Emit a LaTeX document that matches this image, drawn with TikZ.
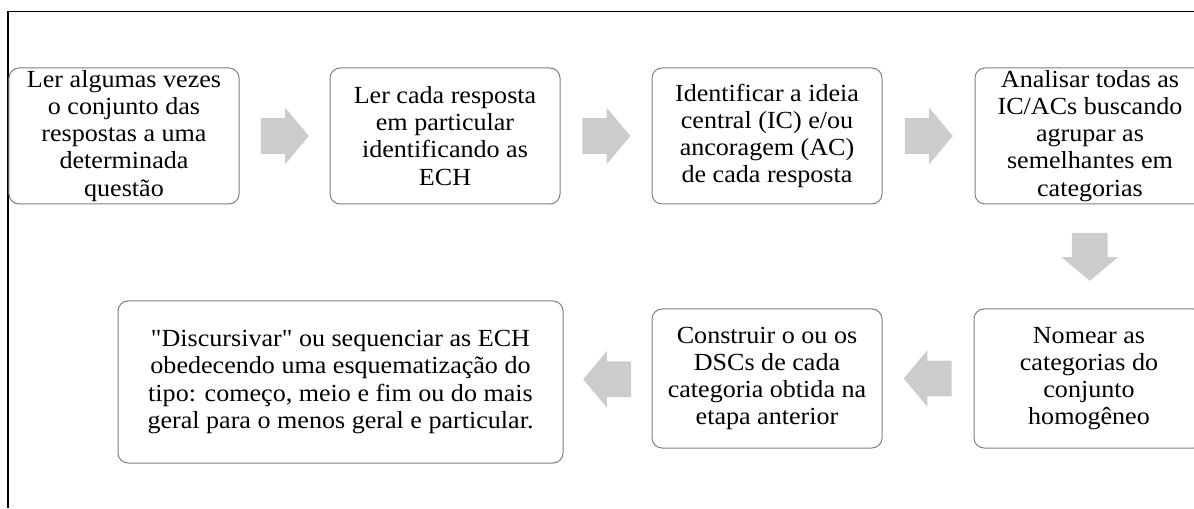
\documentclass[tikz,border=0pt]{standalone}
\usepackage{fontspec}
\setmainfont{Liberation Serif}[Ligatures=TeXOff, FakeStretch=1.06]
\usetikzlibrary{shapes.arrows,calc}

\begin{document}
\begin{tikzpicture}[caixa/.style={draw=black!50, line width=0.02cm, rounded corners=0.2cm, minimum width=4.6cm, minimum height=2.72cm, inner sep=0pt, align=center, font=\fontsize{14}{15.4}\selectfont},
                    seta/.style={single arrow, fill=black!20, draw=none, anchor=tail, minimum height=0.96cm, single arrow head extend=0.21cm, single arrow tip angle=100, inner xsep=0pt, inner ysep=0.35cm}]
            \useasboundingbox (0,0) rectangle (23.88,10.16);
            \clip (0,0) rectangle (23.88,10.16);

            % Rahmen
            \draw[line width=0.03cm] (0.16,0) -- (0.16,9.93) -- (23.88,9.93);

            % Caixas
            \node[caixa] (ler) at (2.48,7.44) {Ler algumas vezes\\o conjunto das\\respostas a uma\\determinada\\questão};
            \node[caixa] (resposta) at (8.90,7.44) {Ler cada resposta\\em particular\\identificando as\\ECH};
            \node[caixa] (ideia) at (15.34,7.44) {Identificar a ideia\\central (IC) e/ou\\ancoragem (AC)\\de cada resposta};
            \node[caixa] (analisar) at (21.80,7.44) {Analisar todas as\\IC/ACs buscando\\agrupar as\\semelhantes em\\categorias};
            \node[caixa, minimum height=2.78cm] (nomear) at (21.78,2.59) {Nomear as\\categorias do\\conjunto\\homogêneo};
            \node[caixa, minimum height=2.78cm] (construir) at (15.34,2.59) {Construir o ou os\\DSCs de cada\\categoria obtida na\\etapa anterior};
            \node[caixa, minimum width=8.9cm, minimum height=3.24cm] (discursivar) at (6.81,2.52) {"Discursivar" ou sequenciar as ECH\\obedecendo uma esquematização do\\tipo: começo, meio e fim ou do mais\\geral para o menos geral e particular.};

            % Setas
            \node[seta] (s1) at ($($(ler.east)!0.5!(resposta.west)$)!0.48cm!(ler.east)$) {};
            \node[seta] (s2) at ($($(resposta.east)!0.5!(ideia.west)$)!0.48cm!(resposta.east)$) {};
            \node[seta] (s3) at ($($(ideia.east)!0.5!(analisar.west)$)!0.48cm!(ideia.east)$) {};
            \node[seta, rotate=-90] (s4) at ($($(analisar.south)!0.5!(nomear.north)$)!0.48cm!(analisar.south)$) {};
            \node[seta, rotate=180] (s5) at ($($(nomear.west)!0.5!(construir.east)$)!0.48cm!(nomear.west)$) {};
            \node[seta, rotate=180] (s6) at ($($(construir.west)!0.5!(discursivar.east)$)!0.48cm!(construir.west)$) {};
        \end{tikzpicture}
\end{document}
